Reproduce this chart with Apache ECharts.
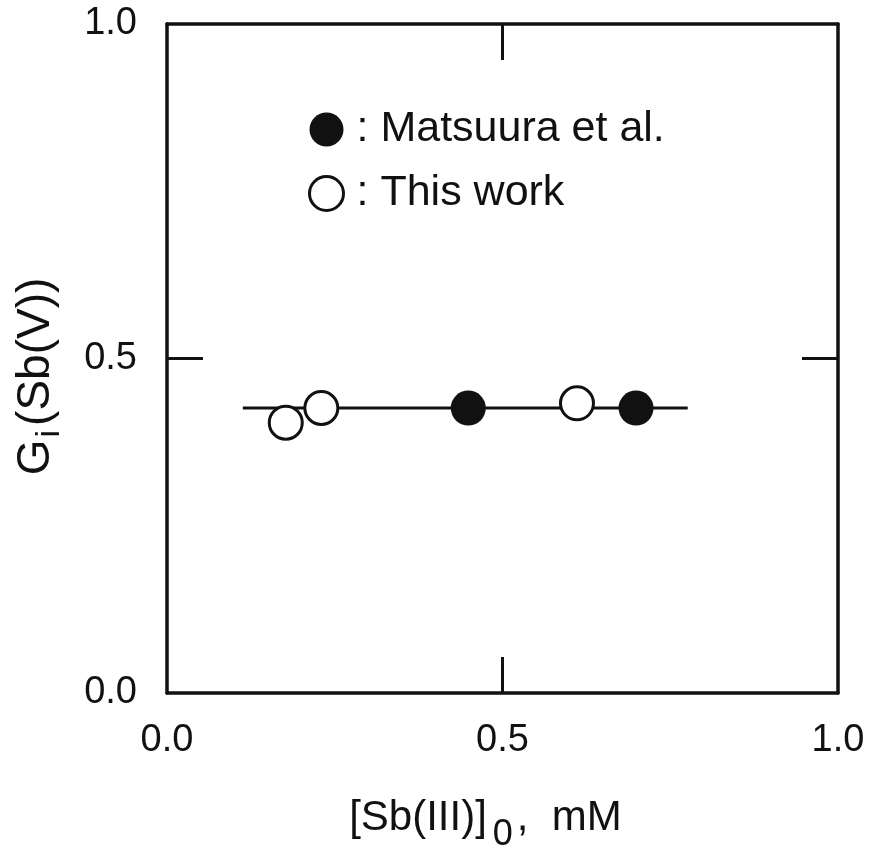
<!DOCTYPE html>
<html>
<head>
<meta charset="utf-8">
<script src="https://cdn.jsdelivr.net/npm/echarts@6/dist/echarts.min.js"></script>
<style>html,body{margin:0;padding:0;background:#fff;}#c{width:871px;height:850px;}</style>
</head>
<body>
<div id="c"></div>
<script>
// Data
const thisWork = [[0.177, 0.404], [0.230, 0.426], [0.611, 0.433]];
const matsuura = [[0.449, 0.426], [0.699, 0.426]];
const fitLine = [[0.113, 0.426], [0.776, 0.426]];
const xTicks = [0, 0.5, 1.0];
const yTicks = [0, 0.5, 1.0];
const seriesNames = ['Matsuura et al.', 'This work'];

const FONT = 'Liberation Sans';
const chart = echarts.init(document.getElementById('c'), null, {renderer: 'canvas'});
const axisLineStyle = {color: '#111', width: 3.5};
function baseAxis(extra) {
  return Object.assign({
    type: 'value', min: 0, max: 1, interval: 0.5,
    axisLine: {show: true, onZero: false, lineStyle: axisLineStyle},
    axisTick: {show: true, inside: true, length: 36, lineStyle: {color: '#111', width: 3}, customValues: [0.5]},
    splitLine: {show: false}
  }, extra);
}
chart.setOption({
  backgroundColor: '#fff',
  animation: false,
  grid: {left: 167, right: 33, top: 24, bottom: 157, containLabel: false, outerBoundsMode: 'none'},
  legend: {
    orient: 'vertical', left: 303, top: 103,
    itemWidth: 34, itemHeight: 34, itemGap: 21,
    data: [
      {name: seriesNames[0], icon: 'circle', itemStyle: {color: '#111', borderColor: '#111', borderWidth: 0}},
      {name: seriesNames[1], icon: 'circle', itemStyle: {color: '#fff', borderColor: '#111', borderWidth: 3}}
    ],
    formatter: n => ': ' + n,
    textStyle: {fontFamily: FONT, fontSize: 43, color: '#111', padding: [0, 0, 0, 8]}
  },
  xAxis: [
    baseAxis({
      position: 'bottom',
      axisLabel: {fontFamily: FONT, fontSize: 38, color: '#111', margin: 29,
        customValues: xTicks, formatter: v => v.toFixed(1)},
      name: '{a|[Sb(III)]}{s|0}{a|,  mM}',
      nameLocation: 'middle', nameGap: 90,
      nameTextStyle: {padding: [0, 34, 0, 0], rich: {
        a: {fontFamily: FONT, fontSize: 42, color: '#111'},
        s: {fontFamily: FONT, fontSize: 36, color: '#111', padding: [34, 4, 0, 6]}
      }}
    }),
    baseAxis({position: 'top', axisLabel: {show: false}})
  ],
  yAxis: [
    baseAxis({
      position: 'left',
      axisLabel: {fontFamily: FONT, fontSize: 38, color: '#111', margin: 30,
        customValues: yTicks, formatter: v => v.toFixed(1)},
      name: '{a|G}{s|i}{a|(Sb(V))}',
      nameLocation: 'middle', nameGap: 100, nameRotate: 90,
      nameTextStyle: {padding: [0, 36, 0, 0], rich: {
        a: {fontFamily: FONT, fontSize: 46, color: '#111'},
        s: {fontFamily: FONT, fontSize: 34, color: '#111', padding: [28, 4, 0, 2]}
      }}
    }),
    baseAxis({position: 'right', axisLabel: {show: false}})
  ],
  series: [
    {type: 'line', data: fitLine, symbol: 'none', silent: true,
      lineStyle: {color: '#111', width: 3}, z: 1},
    {name: seriesNames[0], type: 'scatter', data: matsuura, symbol: 'circle', symbolSize: 35,
      itemStyle: {color: '#111', borderColor: '#111', borderWidth: 0, opacity: 1}, z: 3},
    {name: seriesNames[1], type: 'scatter', data: thisWork, symbol: 'circle', symbolSize: 33,
      itemStyle: {color: '#fff', borderColor: '#111', borderWidth: 3, opacity: 1}, z: 3}
  ]
});
</script>
</body>
</html>
